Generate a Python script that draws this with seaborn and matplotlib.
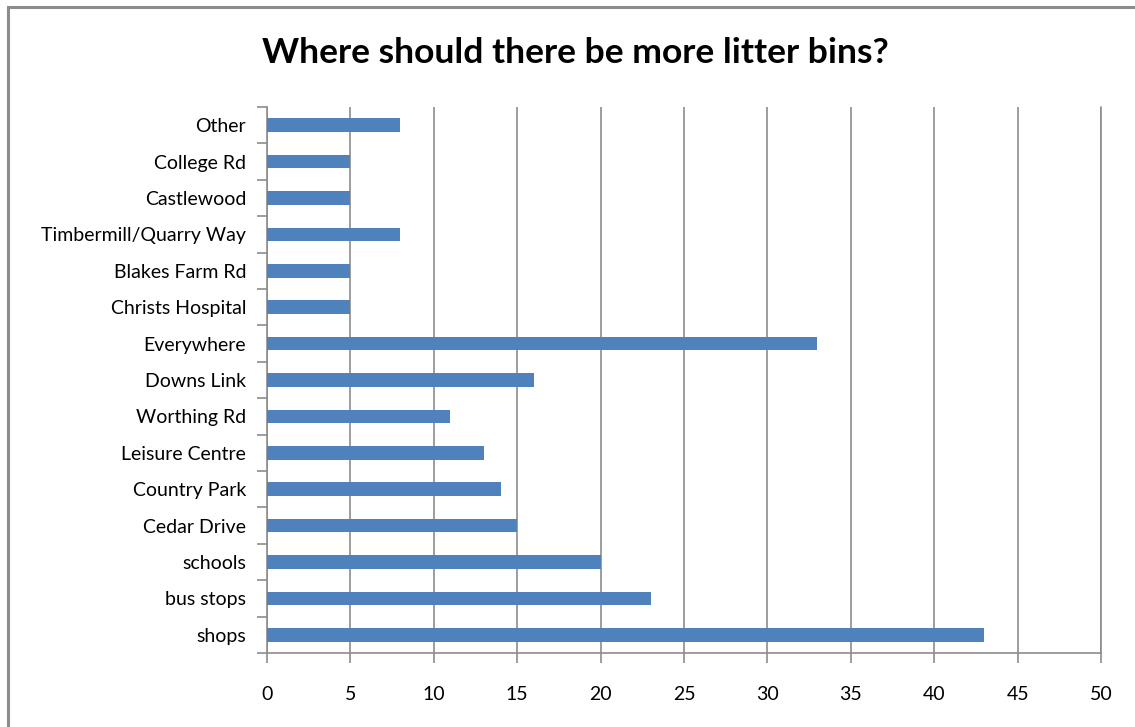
import matplotlib
matplotlib.use("Agg")
import matplotlib.pyplot as plt
import seaborn as sns
import pandas as pd
import numpy as np
from matplotlib.patches import Rectangle

# categories listed top to bottom as in the chart
places = ["Other", "College Rd", "Castlewood", "Timbermill/Quarry Way", "Blakes Farm Rd",
          "Christs Hospital", "Everywhere", "Downs Link", "Worthing Rd", "Leisure Centre",
          "Country Park", "Cedar Drive", "schools", "bus stops", "shops"]
counts = [8, 5, 5, 8, 5, 5, 33, 16, 11, 13, 14, 15, 20, 23, 43]
xticks = [0, 5, 10, 15, 20, 25, 30, 35, 40, 45, 50]

bins = pd.DataFrame({"place": places, "count": counts})

sns.set_style("white")
plt.rcParams["font.family"] = ["Lato", "DejaVu Sans"]
plt.rcParams["text.color"] = "black"
plt.rcParams["xtick.color"] = "black"
plt.rcParams["ytick.color"] = "black"

fig = plt.figure(figsize=(11.35, 7.27), dpi=100)
ax = fig.add_axes([267/1135, 1 - 653/727, (1101 - 267)/1135, (653 - 107)/727])

sns.barplot(data=bins, x="count", y="place", order=places, color="#4F81BD",
            saturation=1, width=0.37, linewidth=0, ax=ax, zorder=3)

grey = "#8c8c8c"
ax.set_xlim(0, 50)
ax.set_ylim(len(places) - 0.5, -0.5)
ax.set_xticks(xticks)
ax.set_xticklabels([str(t) for t in xticks], fontsize=14)
ax.grid(axis="x", color=grey, linewidth=1.2, zorder=0)
ax.axvline(50, color=grey, linewidth=1.2, clip_on=False, zorder=0)
ax.set_axisbelow(True)
ax.set_xlabel("")
ax.set_ylabel("")

# category labels without ticks, boundary ticks as minor
ax.tick_params(axis="y", which="major", left=False, length=0, pad=15, labelsize=14)
ax.set_yticks(np.arange(-0.5, len(places), 1), minor=True)
ax.tick_params(axis="y", which="minor", left=True, length=7, color=grey, width=1.2)
ax.tick_params(axis="x", which="major", bottom=True, length=7, color=grey, width=1.2, pad=17)

for side in ["top", "right"]:
    ax.spines[side].set_visible(False)
for side in ["left", "bottom"]:
    ax.spines[side].set_color(grey)
    ax.spines[side].set_linewidth(1.2)

fig.text(0.507, 1 - 53/727, "Where should there be more litter bins?",
         ha="center", va="center", fontsize=25.5, fontweight="bold")

# chart frame
fig.patches.append(Rectangle((8/1135, -0.05), 1.1, 1 - 7/727 + 0.05, transform=fig.transFigure,
                             fill=False, edgecolor="#8c8c8c", linewidth=2.2))

fig.savefig("out.png", dpi=100)
